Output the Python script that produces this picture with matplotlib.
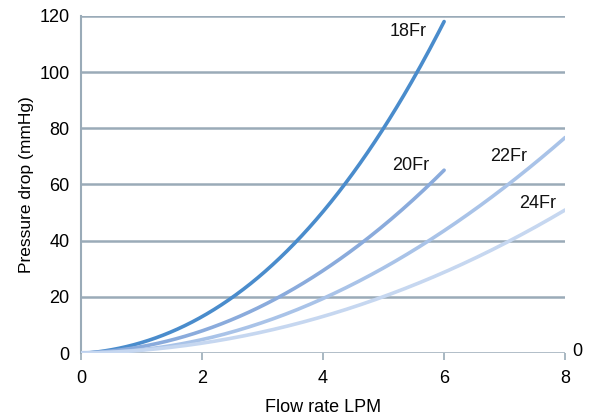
import matplotlib
matplotlib.use("Agg")
import matplotlib.pyplot as plt
import numpy as np

plt.rcParams['font.family'] = ['Liberation Sans', 'DejaVu Sans']

x18 = [0, 0.5, 1, 1.5, 2, 2.5, 3, 3.5, 4, 4.5, 5, 5.5, 6]
y18 = [0, 0.9, 3.5, 7.6, 13, 20, 28.5, 38.5, 50, 63.5, 80, 99, 117.5]
x20 = [0, 0.5, 1, 1.5, 2, 2.5, 3, 3.5, 4, 4.5, 5, 5.5, 6]
y20 = [0, 0.6, 2.2, 4.7, 8.2, 12, 16.8, 22.3, 29, 37, 45.8, 55, 64.8]
x22 = [0, 1, 2, 3, 4, 5, 6, 7, 8]
y22 = [0, 1.3, 5.0, 10.6, 19.5, 30, 43.5, 59.5, 76.5]
x24 = [0, 1, 2, 3, 4, 5, 6, 7, 8]
y24 = [0, 0.9, 3.4, 7.5, 13.2, 20.2, 28.5, 39, 51]

labels = ['18Fr', '20Fr', '22Fr', '24Fr']
label_pos = [(5.40, 114.3), (5.45, 66.6), (7.06, 69.8), (7.54, 53.1)]
colors = ['#4a8ccc', '#8aabdc', '#a9c3e8', '#c6d7f0']

xticks = [0, 2, 4, 6, 8]
yticks = [0, 20, 40, 60, 80, 100, 120]

fig = plt.figure(figsize=(5.9, 4.19), dpi=100)
ax = fig.add_axes([0.137, 0.1575, 0.821, 0.8045])

grid_c = '#9aabb8'
for yt in yticks:
    ax.axhline(yt, color=grid_c, lw=1.8, zorder=1)

series = [(x18, y18), (x20, y20), (x22, y22), (x24, y24)]
for (xs, ys), c in zip(series, colors):
    xs = np.array(xs, float); ys = np.array(ys, float)
    xf = np.linspace(xs[0], xs[-1], 200)
    coef = np.polyfit(xs, ys, 3)
    yf = np.polyval(coef, xf)
    yf[0] = 0
    ax.plot(xf, yf, color=c, lw=2.6, solid_capstyle='round', zorder=3)

for lab, (lx, ly) in zip(labels, label_pos):
    ax.text(lx, ly, lab, ha='center', va='center', fontsize=13, color='#111111')

ax.set_xlim(0, 8)
ax.set_ylim(0, 120)
ax.set_xticks(xticks)
ax.set_yticks(yticks)
for s in ['top', 'right', 'bottom']:
    ax.spines[s].set_visible(False)
ax.spines['left'].set_color(grid_c)
ax.spines['left'].set_linewidth(1.5)
ax.tick_params(axis='y', length=0, labelsize=13, pad=8)
ax.tick_params(axis='x', length=5, width=1.2, color=grid_c, labelsize=13, pad=7)
ax.set_xlabel('Flow rate LPM', fontsize=13, labelpad=9)
ax.set_ylabel('Pressure drop (mmHg)', fontsize=12.5, labelpad=4)
ax.text(8.12, 0.5, '0', ha='left', va='center', fontsize=13)

fig.savefig('out.png', dpi=100)
